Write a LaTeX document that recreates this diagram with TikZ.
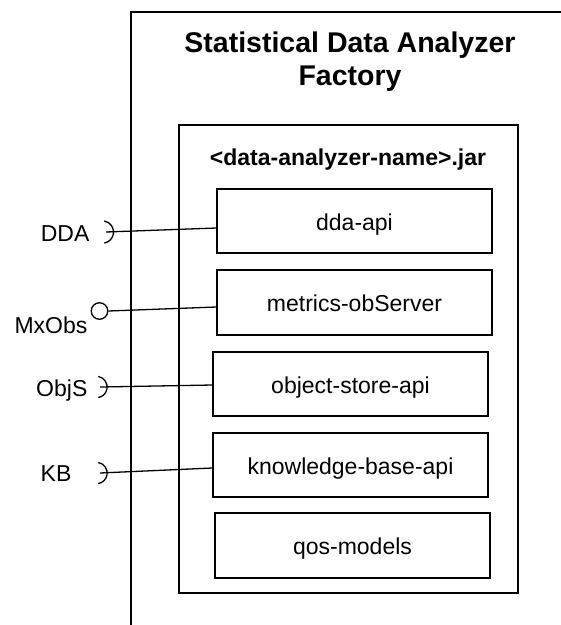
\documentclass[tikz,border=0pt]{standalone}
\usepackage{fontspec}
\setmainfont{Liberation Sans}
\begin{document}
\begin{tikzpicture}[x=1pt,y=-1pt,
  line width=1.3pt,
  comp/.style={draw,minimum width=275pt,minimum height=64pt,inner sep=0pt,text height=18pt,text depth=0pt,font=\fontsize{23}{27}\selectfont},
  lbl/.style={inner sep=0pt,font=\fontsize{23}{27}\selectfont},
  wire/.style={line width=1.3pt},
]
\useasboundingbox (0,0) rectangle (561,625);
% outer component (partially visible)
\draw (561,12) -- (131,12) -- (131,625);
\node[align=center,font=\fontsize{28.5}{33}\selectfont\bfseries] (title) at (350,62) {Statistical Data Analyzer\\Factory};
% jar box
\draw (179,125) rectangle (518,593);
\node[lbl,anchor=base,font=\fontsize{23}{27}\selectfont\bfseries] (jar) at (348,165) {<data-analyzer-name>.jar};
% inner components
\node[comp] (dda) at (354.5,221) {dda-api};
\node[comp,minimum height=65pt] (mx) at (354.5,302.5) {metrics-obServer};
\node[comp] (obj) at (350.5,384) {object-store-api};
\node[comp] (kb) at (350.5,465) {knowledge-base-api};
\node[comp,minimum height=65pt] (qos) at (352.5,545.5) {qos-models};
% interface labels
\node[lbl,anchor=base east] (lDDA) at (90,241) {DDA};
\node[lbl,anchor=base east] (lMx) at (88,333) {MxObs};
\node[lbl,anchor=base east] (lObj) at (88,396) {ObjS};
\node[lbl,anchor=base east] (lKB) at (72,481) {KB};
% sockets and lollipop
\coordinate (sDDA) at (106,232);
\coordinate (sObj) at (100,387);
\coordinate (sKB) at (100,473);
\node[draw,circle,minimum size=16.5pt,inner sep=0pt,line width=1.3pt] (mxball) at (99.5,311) {};
\draw (sDDA) ++(-1.7,-11) arc[start angle=-80,end angle=80,radius=11.2];
\draw (sObj) ++(-1.7,-10.5) arc[start angle=-80,end angle=80,radius=10.7];
\draw (sKB) ++(-1.7,-10.5) arc[start angle=-80,end angle=80,radius=10.7];
% connectors
\draw[wire] (sDDA) -- ([yshift=-7pt]dda.west);
\draw[wire] (mxball.east) -- ([yshift=-4.5pt]mx.west);
\draw[wire] (sObj) -- ([yshift=-1pt]obj.west);
\draw[wire] (sKB) -- ([yshift=-3pt]kb.west);
\end{tikzpicture}
\end{document}
